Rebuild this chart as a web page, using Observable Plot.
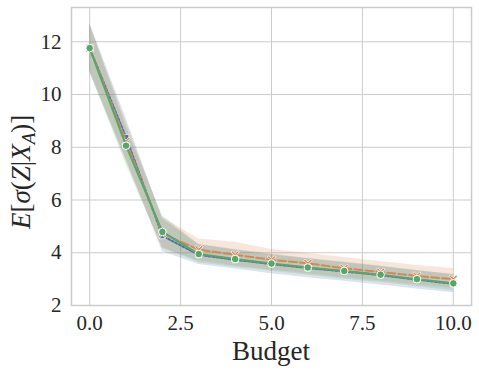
<!DOCTYPE html>
<html>
<head>
<meta charset="utf-8">
<script src="https://cdn.jsdelivr.net/npm/d3@7"></script>
<script src="https://cdn.jsdelivr.net/npm/@observablehq/plot@0.6"></script>
<style>
  html, body { margin: 0; padding: 0; background: #fff; }
  #chart svg { display: block; }
  #chart svg text, #chart svg tspan { font-family: "Liberation Serif", "DejaVu Serif", serif !important; }
</style>
</head>
<body>
<div id="chart"></div>
<script>
const budget = [0, 1, 2, 3, 4, 5, 6, 7, 8, 9, 10];
const xTicks = [0, 2.5, 5, 7.5, 10];
const yTicks = [2, 4, 6, 8, 10, 12];

const blueMean  = [11.76, 8.38, 4.64, 3.92, 3.73, 3.57, 3.42, 3.29, 3.15, 2.98, 2.82];
const blueLo    = [10.85, 7.55, 4.05, 3.55, 3.38, 3.20, 3.05, 2.92, 2.78, 2.63, 2.48];
const blueHi    = [12.70, 9.10, 5.30, 4.30, 4.10, 3.92, 3.77, 3.62, 3.48, 3.32, 3.18];

const orangeMean = [11.76, 8.23, 4.72, 4.12, 3.92, 3.73, 3.60, 3.41, 3.27, 3.12, 3.00];
const orangeLo   = [10.90, 7.50, 4.15, 3.70, 3.50, 3.35, 3.20, 3.05, 2.93, 2.78, 2.65];
const orangeHi   = [12.65, 8.95, 5.35, 4.52, 4.40, 4.12, 3.97, 3.82, 3.67, 3.52, 3.40];

const greenMean = [11.76, 8.06, 4.79, 3.95, 3.76, 3.59, 3.44, 3.31, 3.17, 3.00, 2.84];
const greenLo   = [10.85, 7.35, 4.20, 3.62, 3.45, 3.30, 3.15, 3.00, 2.87, 2.72, 2.55];
const greenHi   = [12.70, 8.80, 5.40, 4.32, 4.12, 3.95, 3.78, 3.65, 3.50, 3.33, 3.18];

const BLUE = "#4C72B0", ORANGE = "#DD8452", GREEN = "#55A868";

const rows = (mean, lo, hi) => budget.map((b, i) => ({b, m: mean[i], lo: lo[i], hi: hi[i]}));
const blue = rows(blueMean, blueLo, blueHi);
const orange = rows(orangeMean, orangeLo, orangeHi);
const green = rows(greenMean, greenLo, greenHi);

// filled X marker
const symbolFilledX = {
  draw(ctx, size) {
    const r = Math.sqrt(size / Math.PI) * 1.05;
    const w = r * 0.32;
    const pts = [
      [0, -w], [r - w, -r], [r, -r + w], [w, 0], [r, r - w], [r - w, r],
      [0, w], [-r + w, r], [-r, r - w], [-w, 0], [-r, -r + w], [-r + w, -r]
    ];
    ctx.moveTo(pts[0][0], pts[0][1]);
    for (let i = 1; i < pts.length; i++) ctx.lineTo(pts[i][0], pts[i][1]);
    ctx.closePath();
  }
};

const font = "Liberation Serif";

const plot = Plot.plot({
  width: 479,
  height: 373,
  marginLeft: 71,
  marginRight: 8,
  marginTop: 7,
  marginBottom: 68,
  style: {fontFamily: font, fontSize: "21px", color: "#262626", background: "#fff"},
  x: {domain: [-0.5, 10.5], ticks: xTicks, tickFormat: d3.format(".1f"), tickSize: 0, tickPadding: 10, label: null},
  y: {domain: [2, 13.3], ticks: yTicks, tickSize: 0, tickPadding: 10, label: null},
  marks: [
    Plot.gridX(xTicks, {stroke: "#cccccc", strokeOpacity: 1, strokeWidth: 1}),
    Plot.gridY(yTicks, {stroke: "#cccccc", strokeOpacity: 1, strokeWidth: 1}),
    Plot.areaY(blue, {x: "b", y1: "lo", y2: "hi", fill: BLUE, fillOpacity: 0.2}),
    Plot.areaY(orange, {x: "b", y1: "lo", y2: "hi", fill: ORANGE, fillOpacity: 0.2}),
    Plot.areaY(green, {x: "b", y1: "lo", y2: "hi", fill: GREEN, fillOpacity: 0.2}),
    Plot.line(blue, {x: "b", y: "m", stroke: BLUE, strokeWidth: 2, strokeDasharray: "2,2"}),
    Plot.dot(blue, {x: "b", y: "m", symbol: "square", r: 3.2, fill: BLUE, stroke: "white", strokeWidth: 0.75}),
    Plot.line(orange, {x: "b", y: "m", stroke: ORANGE, strokeWidth: 2, strokeDasharray: "8,3"}),
    Plot.dot(orange, {x: "b", y: "m", symbol: symbolFilledX, r: 4, fill: ORANGE, stroke: "white", strokeWidth: 0.75}),
    Plot.line(green, {x: "b", y: "m", stroke: GREEN, strokeWidth: 2}),
    Plot.dot(green, {x: "b", y: "m", symbol: "circle", r: 3.8, fill: GREEN, stroke: "white", strokeWidth: 1}),
    Plot.frame({stroke: "#cccccc", strokeWidth: 1.5})
  ]
});

document.getElementById("chart").appendChild(plot);

const svg = d3.select(plot);
// x label
svg.append("text")
  .attr("x", 71 + (479 - 71 - 8) / 2)
  .attr("y", 360)
  .attr("text-anchor", "middle")
  .attr("font-size", 27)
  .attr("fill", "#262626")
  .text("Budget");

// y label: E[σ(Z|X_A)]
const yl = svg.append("text")
  .attr("transform", `translate(30, 229) rotate(-90)`)
  .attr("text-anchor", "start")
  .attr("font-size", 27)
  .attr("fill", "#262626");
const parts = [
  ["E", true], ["[", false], ["σ", true], ["(", false], ["Z", true], ["|", false], ["X", true]
];
for (const [t, it] of parts) yl.append("tspan").attr("font-style", it ? "italic" : "normal").text(t);
yl.append("tspan").attr("font-style", "italic").attr("font-size", 19).attr("dy", 5).text("A");
yl.append("tspan").attr("dy", -5).text(")]");
</script>
</body>
</html>
